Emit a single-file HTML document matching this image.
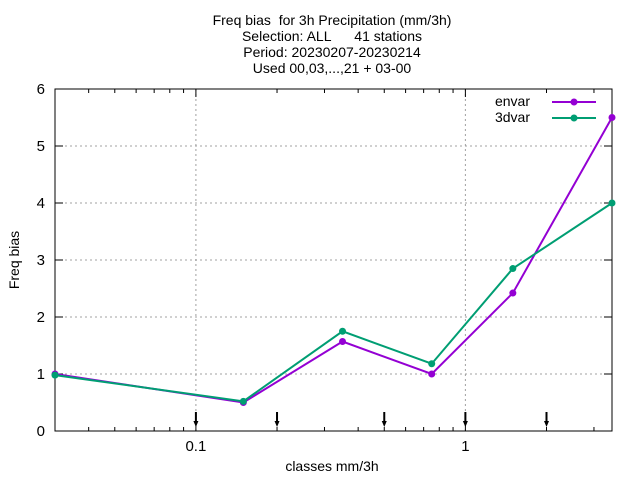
<!DOCTYPE html>
<html><head><meta charset="utf-8"><style>
body{margin:0;background:#fff;}
svg{display:block;font-family:"Liberation Sans",sans-serif;}
.pre{white-space:pre;}
</style></head><body>
<svg id="c" width="640" height="480">
<g font-size="14" text-anchor="middle" fill="#000" class="pre">
<text x="332" y="25" class="pre">Freq bias  for 3h Precipitation (mm/3h)</text>
<text x="332" y="41" class="pre">Selection: ALL      41 stations</text>
<text x="332" y="57">Period: 20230207-20230214</text>
<text x="332" y="73">Used 00,03,...,21 + 03-00</text>
</g>
<text x="19" y="260" font-size="14" text-anchor="middle" transform="rotate(-90 19 260)">Freq bias</text>
<text x="332" y="471" font-size="14" text-anchor="middle">classes mm/3h</text>
<g id="grid"></g><g id="axes"></g><g id="marks"></g><g id="series"></g>
<g font-size="14">
<text x="530" y="106" text-anchor="end">envar</text>
<line x1="552" y1="102" x2="596" y2="102" stroke="#9400d3" stroke-width="2"/>
<circle cx="574" cy="102" r="3.5" fill="#9400d3"/>
<text x="530" y="122" text-anchor="end">3dvar</text>
<line x1="552" y1="118" x2="596" y2="118" stroke="#009e73" stroke-width="2"/>
<circle cx="574" cy="118" r="3.5" fill="#009e73"/>
</g>
</svg>
<script>
const classes=[0.03,0.15,0.35,0.75,1.5,3.5];
const envar=[1.0,0.5,1.57,1.0,2.42,5.5];
const dvar3=[0.98,0.52,1.75,1.18,2.85,4.0];
const yTicks=[0,1,2,3,4,5,6];
const xTickVals=[0.1,1];
const xTickLabels=["0.1","1"];
const markVals=[0.1,0.2,0.5,1,2];
const L=55,R=612,T=89,B=431,xmin=0.03,xmax=3.5;
const X=v=>L+(Math.log10(v)-Math.log10(xmin))/(Math.log10(xmax)-Math.log10(xmin))*(R-L);
const Y=v=>B-v/6*(B-T);
const NS="http://www.w3.org/2000/svg";
function mk(p,t,a){const e=document.createElementNS(NS,t);for(const k in a)e.setAttribute(k,a[k]);p.appendChild(e);return e;}
const grid=document.getElementById('grid'),axes=document.getElementById('axes'),marks=document.getElementById('marks'),ser=document.getElementById('series');
yTicks.forEach(v=>{
 if(v>0&&v<6){const g=mk(grid,'line',{x1:L,x2:R,y1:Y(v),y2:Y(v),stroke:'#a0a0a0','stroke-dasharray':'2,3','stroke-width':1});
 
 }
 mk(axes,'line',{x1:L,x2:L+8,y1:Y(v),y2:Y(v),stroke:'#000'});
 mk(axes,'line',{x1:R,x2:R-8,y1:Y(v),y2:Y(v),stroke:'#000'});
 const t=mk(axes,'text',{x:L-10,y:Y(v)+5,'font-size':15,'text-anchor':'end'});t.textContent=v;
 
 
});
xTickVals.forEach((v,i)=>{
 const g=mk(grid,'line',{x1:X(v),x2:X(v),y1:T,y2:B,stroke:'#a0a0a0','stroke-dasharray':'2,3'});
 
 
 mk(axes,'line',{x1:X(v),x2:X(v),y1:B,y2:B-8,stroke:'#000'});
 mk(axes,'line',{x1:X(v),x2:X(v),y1:T,y2:T+8,stroke:'#000'});
 const t=mk(axes,'text',{x:X(v),y:B+20,'font-size':15,'text-anchor':'middle'});t.textContent=xTickLabels[i];
 
 
});
[0.04,0.05,0.06,0.07,0.08,0.09,0.2,0.3,0.4,0.5,0.6,0.7,0.8,0.9,2,3].forEach(v=>{
 mk(axes,'line',{x1:X(v),x2:X(v),y1:B,y2:B-4,stroke:'#000'});
 mk(axes,'line',{x1:X(v),x2:X(v),y1:T,y2:T+4,stroke:'#000'});
});
const fr=mk(axes,'rect',{x:L,y:T,width:R-L,height:B-T,fill:'none',stroke:'#000'});


markVals.forEach(v=>{
 const g=mk(marks,'g',{});
 
 
 mk(g,'line',{x1:X(v),x2:X(v),y1:412,y2:424,stroke:'#000','stroke-width':2});
 mk(g,'polygon',{points:`${X(v)-2.5},421 ${X(v)+2.5},421 ${X(v)},427`,fill:'#000'});
});
function series(vals,color,name){
 const g=mk(ser,'g',{});
 
 
 mk(g,'polyline',{points:vals.map((v,i)=>X(classes[i])+','+Y(v)).join(' '),fill:'none',stroke:color,'stroke-width':2});
 vals.forEach((v,i)=>{const c=mk(g,'circle',{cx:X(classes[i]),cy:Y(v),r:3.5,fill:color});
 
 });
}
series(envar,'#9400d3','envar-series');
series(dvar3,'#009e73','3dvar-series');
</script>
</body></html>
